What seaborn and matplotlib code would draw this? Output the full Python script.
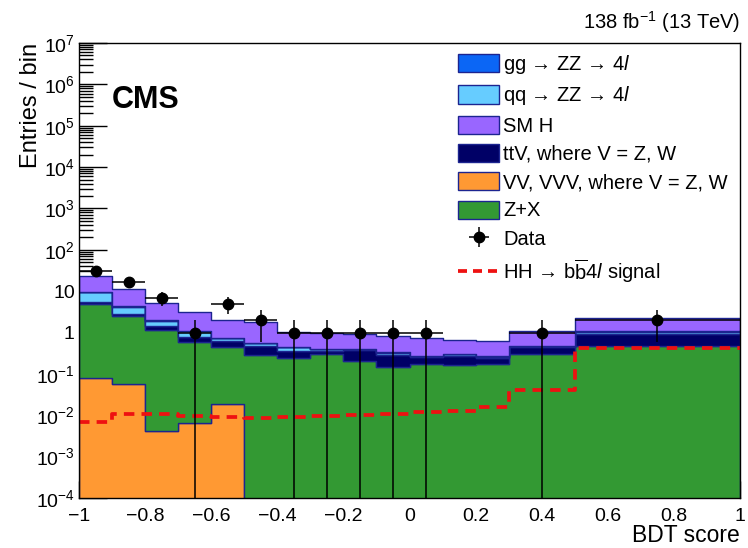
import numpy as np
import pandas as pd
import matplotlib
matplotlib.use("Agg")
import matplotlib.pyplot as plt
import matplotlib.ticker as mticker
from matplotlib.patches import Patch
from matplotlib.lines import Line2D
import seaborn as sns

# ---------------- data ----------------
bin_edges = [-1.0, -0.9, -0.8, -0.7, -0.6, -0.5, -0.4, -0.3, -0.2, -0.1,
             0.0, 0.1, 0.2, 0.3, 0.5, 1.0]
zx    = [4.82, 2.39, 1.17, 0.58, 0.44, 0.29, 0.24, 0.30, 0.21, 0.15, 0.176, 0.16, 0.173, 0.31, 0.48]
vv    = [0.080, 0.058, 0.0041, 0.0065, 0.0187, 0, 0, 0, 0, 0, 0, 0, 0, 0, 0]
ttv   = [0.70, 0.39, 0.23, 0.20, 0.17, 0.17, 0.11, 0.06, 0.16, 0.14, 0.084, 0.105, 0.067, 0.13, 0.45]
qqzz  = [4.0, 1.35, 0.53, 0.29, 0.12, 0.09, 0.09, 0.035, 0.035, 0.035, 0.008, 0.03, 0.022, 0.035, 0.12]
ggzz  = [0.20, 0.08, 0.03, 0.02, 0.01, 0.007, 0.007, 0.005, 0.005, 0.005, 0.002, 0.005, 0.003, 0.005, 0.01]
smh   = [13.7, 6.9, 3.2, 1.96, 1.28, 1.29, 0.61, 0.60, 0.525, 0.475, 0.46, 0.37, 0.345, 0.62, 1.18]
data_counts = [30, 17, 7, 1, 5, 2, 1, 1, 1, 1, 1, 0, 0, 1, 2]
hh_signal = [0.0069, 0.0107, 0.0107, 0.0098, 0.0091, 0.0086, 0.0089, 0.0094, 0.0099,
             0.0107, 0.0118, 0.0129, 0.0155, 0.0415, 0.43]

labels = {
    "gg": "gg \u2192 ZZ \u2192 4$\\mathit{l}$",
    "qq": "qq \u2192 ZZ \u2192 4$\\mathit{l}$",
    "smh": "SM H",
    "ttv": "ttV, where V = Z, W",
    "vv": "VV, VVV, where V = Z, W",
    "zx": "Z+X",
}
colors = {
    "gg": "#0b66f5",
    "qq": "#66ccff",
    "smh": "#9966ff",
    "ttv": "#000066",
    "vv": "#ff9933",
    "zx": "#339933",
}
edge_col = "#1c2490"

# ---------------- style ----------------
sns.set_style("ticks")
plt.rcParams["font.family"] = ["Liberation Sans", "DejaVu Sans"]
plt.rcParams["mathtext.fontset"] = "custom"
plt.rcParams["mathtext.rm"] = "Liberation Sans"
plt.rcParams["mathtext.it"] = "Liberation Sans:italic"
plt.rcParams["mathtext.bf"] = "Liberation Sans:bold"
plt.rcParams["axes.unicode_minus"] = True
for k in ["text.color", "axes.labelcolor", "xtick.color", "ytick.color",
          "xtick.labelcolor", "ytick.labelcolor", "axes.edgecolor"]:
    plt.rcParams[k] = "black"

fig = plt.figure(figsize=(7.48, 5.48), dpi=100)
ax = fig.add_axes([79/748, 50/548, 661/748, 455/548])

edges = np.array(bin_edges)
centers = 0.5 * (edges[:-1] + edges[1:])
halfw = 0.5 * (edges[1:] - edges[:-1])

# stacking order: first hue level ends on top
stack_order = ["smh", "gg", "qq", "ttv", "zx", "vv"]
series = {"smh": smh, "gg": ggzz, "qq": qqzz, "ttv": ttv, "zx": zx, "vv": vv}
rows = []
for key in stack_order:
    for c, w in zip(centers, series[key]):
        rows.append({"BDT": c, "w": w, "proc": key})
df = pd.DataFrame(rows)

sns.histplot(data=df, x="BDT", weights="w", hue="proc", hue_order=stack_order,
             bins=list(bin_edges), multiple="stack", element="step", fill=True,
             palette=colors, alpha=1.0, edgecolor=edge_col, linewidth=1.0,
             legend=False, ax=ax)

# signal
sig_df = pd.DataFrame({"BDT": centers, "w": hh_signal})
sns.histplot(data=sig_df, x="BDT", weights="w", bins=list(bin_edges), element="step",
             fill=False, color="#ee1111", linewidth=2.7, linestyle=(0, (2.8, 1.9)),
             ax=ax)

# data
dc = np.array(data_counts, dtype=float)
mask = dc > 0
err = ax.errorbar(centers[mask], dc[mask], xerr=halfw[mask], yerr=np.sqrt(dc[mask]),
                  fmt="o", color="black", markersize=7.5, elinewidth=1.1,
                  capsize=0, zorder=5)

ax.set_yscale("log")
ax.set_ylim(1e-4, 1e7)
ax.set_xlim(-1, 1)

def yfmt(v, pos):
    e = int(round(np.log10(v)))
    if e == 0:
        return "1"
    if e == 1:
        return "10"
    return r"10$^{%d}$" % e if e > 0 else r"10$^{\mathregular{-%d}}$" % (-e)

ax.yaxis.set_major_locator(mticker.LogLocator(base=10, numticks=20))
ax.yaxis.set_minor_locator(mticker.LogLocator(base=10, subs=np.arange(2, 10), numticks=20))
ax.yaxis.set_minor_formatter(mticker.NullFormatter())
ax.yaxis.set_major_formatter(mticker.FuncFormatter(yfmt))
ax.xaxis.set_major_locator(mticker.MultipleLocator(0.2))
ax.xaxis.set_minor_locator(mticker.MultipleLocator(0.05))
ax.xaxis.set_major_formatter(mticker.FuncFormatter(
    lambda v, p: ("%g" % round(v, 2)).replace("-", "\u2212")))

ax.tick_params(axis="both", which="both", direction="in", top=False, right=False,
               color="black", width=1.0)
ax.tick_params(axis="y", which="major", length=20, pad=3, labelsize=14)
ax.tick_params(axis="y", which="minor", length=10)
ax.tick_params(axis="x", which="major", length=12, pad=7, labelsize=14)
ax.tick_params(axis="x", which="minor", length=6)
for s in ax.spines.values():
    s.set_linewidth(1.0)
    s.set_color("black")

ax.set_ylabel("Entries / bin", fontsize=17, loc="top")
ax.yaxis.set_label_coords(-0.056, 1.0)
ax.set_xlabel("BDT score", fontsize=16.5, loc="right")
ax.xaxis.set_label_coords(1.0, -0.057)

ax.text(0.05, 0.875, "CMS", transform=ax.transAxes, fontsize=22,
        fontweight="bold", ha="left", va="center")
fig.text(740/748, (548-22)/548, r"138 fb$^{\mathregular{-1}}$ (13 TeV)",
         ha="right", va="center", fontsize=14.5)

# legend
handles = [Patch(facecolor=colors[k], edgecolor=edge_col, linewidth=1.0)
           for k in ["gg", "qq", "smh", "ttv", "vv", "zx"]]
leg_labels = [labels[k] for k in ["gg", "qq", "smh", "ttv", "vv", "zx"]]
handles.append(err)
leg_labels.append("Data")
handles.append(Line2D([], [], color="#ee1111", linewidth=2.7, linestyle=(0, (2.4, 1.6))))
leg_labels.append("HH \u2192 b$\\overline{\\mathrm{b}}$4$\\mathit{l}$ signal")
leg = ax.legend(handles, leg_labels, loc="upper left",
                bbox_to_anchor=(454/748, (548-49)/548), bbox_transform=fig.transFigure,
                frameon=False, fontsize=14.5, handlelength=2.05, handleheight=1.0,
                labelspacing=0.415, handletextpad=0.2, borderpad=0.2,
                borderaxespad=0.0)

fig.savefig("out.png", dpi=100)
